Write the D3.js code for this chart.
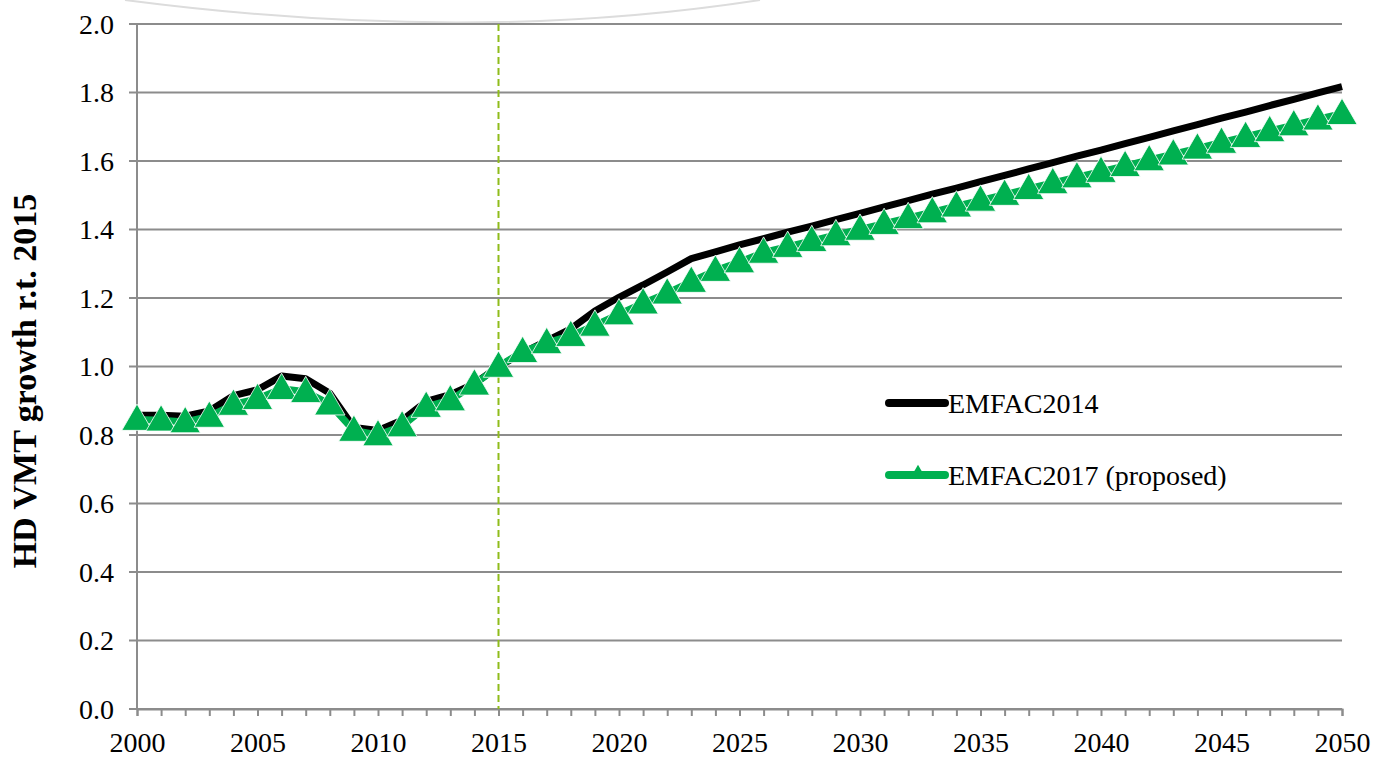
<!DOCTYPE html>
<html>
<head>
<meta charset="utf-8">
<script src="https://cdn.jsdelivr.net/npm/d3@7/dist/d3.min.js"></script>
<style>
  html, body { margin: 0; padding: 0; background: #fff; }
  svg { display: block; }
  text { font-family: "Liberation Serif", "Times New Roman", serif; }
</style>
</head>
<body>
<div id="chart"></div>
<script>
(function () {
  "use strict";

  /***** Données *****/
  var years = d3.range(2000, 2051);

  var emfac2014 = [
    0.858, 0.858, 0.855, 0.870, 0.915, 0.932, 0.972, 0.964, 0.922, 0.822,
    0.813, 0.843, 0.898, 0.918, 0.950, 1.000, 1.040, 1.075, 1.110, 1.162,
    1.202, 1.238, 1.276, 1.315, 1.335, 1.355, 1.373, 1.392, 1.410, 1.429,
    1.447, 1.466, 1.484, 1.503, 1.521, 1.540, 1.558, 1.577, 1.595, 1.614,
    1.632, 1.651, 1.669, 1.688, 1.706, 1.725, 1.743, 1.762, 1.780, 1.799,
    1.817
  ];

  var emfac2017 = [
    0.845, 0.843, 0.838, 0.854, 0.889, 0.906, 0.935, 0.926, 0.890, 0.813,
    0.800, 0.826, 0.883, 0.902, 0.948, 1.000, 1.043, 1.069, 1.090, 1.120,
    1.153, 1.185, 1.214, 1.248, 1.280, 1.305, 1.333, 1.350, 1.367, 1.384,
    1.400, 1.417, 1.434, 1.451, 1.468, 1.485, 1.502, 1.519, 1.536, 1.553,
    1.569, 1.586, 1.603, 1.620, 1.637, 1.654, 1.671, 1.688, 1.705, 1.722,
    1.738
  ];

  var yTicks = [0, 0.2, 0.4, 0.6, 0.8, 1.0, 1.2, 1.4, 1.6, 1.8, 2.0];
  var xLabelYears = [2000, 2005, 2010, 2015, 2020, 2025, 2030, 2035, 2040, 2045, 2050];
  var baseYear = 2015;

  var seriesNames = ["EMFAC2014", "EMFAC2017 (proposed)"];
  var axisTitle = "HD VMT growth r.t. 2015";

  /***** Configuration *****/
  var width = 1374, height = 757;
  var margin = {top: 24, right: 32, bottom: 48, left: 137};
  var plotW = width - margin.left - margin.right,
      plotH = height - margin.top - margin.bottom;

  var serif = "Liberation Serif, Times New Roman, serif";
  var grid = "#8c8c8c",
      green = "#00b050",
      dash = "#8fbc1b";

  var x = d3.scaleLinear().domain([2000, 2050]).range([0, plotW]);
  var y = d3.scaleLinear().domain([0, 2]).range([plotH, 0]);

  var svg = d3.select("#chart").append("svg")
    .attr("width", width)
    .attr("height", height);

  // arc pâle en haut (ombre de la page d'origine)
  svg.append("path")
    .attr("d", "M125,0 Q470,45 760,0")
    .attr("fill", "none")
    .attr("stroke", "#dcdcdc")
    .attr("stroke-width", 2);

  var g = svg.append("g")
    .attr("transform", "translate(" + margin.left + "," + margin.top + ")");

  // Lignes de grille horizontales
  g.append("g")
    .selectAll("line")
    .data(yTicks)
    .join("line")
      .attr("x1", -8)
      .attr("x2", plotW)
      .attr("y1", function (d) { return y(d); })
      .attr("y2", function (d) { return y(d); })
      .attr("stroke", grid)
      .attr("stroke-width", 2);

  // Axe Y (trait vertical)
  g.append("line")
    .attr("x1", 0).attr("x2", 0)
    .attr("y1", 0).attr("y2", plotH)
    .attr("stroke", grid)
    .attr("stroke-width", 2);

  // Étiquettes Y
  g.append("g")
    .selectAll("text")
    .data(yTicks)
    .join("text")
      .attr("x", -23)
      .attr("y", function (d) { return y(d); })
      .attr("dy", "0.35em")
      .attr("text-anchor", "end")
      .attr("font-family", serif)
      .attr("font-size", 28)
      .attr("fill", "#000")
      .text(function (d) { return d3.format(".1f")(d); });

  // Axe X avec graduations annuelles
  var xAxis = d3.axisBottom(x)
    .tickValues(years)
    .tickSize(7)
    .tickFormat(function (d) { return xLabelYears.indexOf(d) >= 0 ? d : ""; });

  var gx = g.append("g")
    .attr("transform", "translate(0," + plotH + ")")
    .call(xAxis);
  gx.attr("font-family", serif);
  gx.select(".domain").attr("stroke", grid).attr("stroke-width", 2);
  gx.selectAll(".tick line").attr("stroke", grid).attr("stroke-width", 2);
  gx.selectAll(".tick text")
    .attr("font-family", serif)
    .attr("font-size", 28)
    .attr("fill", "#000")
    .attr("y", 23)
    .attr("dy", "0.71em");

  // Ligne verticale pointillée 2015
  g.append("line")
    .attr("x1", x(baseYear)).attr("x2", x(baseYear))
    .attr("y1", 0).attr("y2", plotH)
    .attr("stroke", dash)
    .attr("stroke-width", 2)
    .attr("stroke-dasharray", "7,4");

  var line = d3.line()
    .x(function (d) { return x(d[0]); })
    .y(function (d) { return y(d[1]); });

  var d2014 = years.map(function (yr, i) { return [yr, emfac2014[i]]; });
  var d2017 = years.map(function (yr, i) { return [yr, emfac2017[i]]; });

  // Série EMFAC2014
  g.append("path")
    .datum(d2014)
    .attr("d", line)
    .attr("fill", "none")
    .attr("stroke", "#000")
    .attr("stroke-width", 7)
    .attr("stroke-linejoin", "round");

  // Série EMFAC2017
  g.append("path")
    .datum(d2017)
    .attr("d", line)
    .attr("fill", "none")
    .attr("stroke", green)
    .attr("stroke-width", 7)
    .attr("stroke-linejoin", "round");

  var tri = d3.symbol().type(d3.symbolTriangle).size(400);

  g.append("g")
    .selectAll("path")
    .data(d2017)
    .join("path")
      .attr("transform", function (d) { return "translate(" + x(d[0]) + "," + (y(d[1]) + 2) + ")"; })
      .attr("d", tri)
      .attr("fill", green)
      .attr("stroke", "#fff")
      .attr("stroke-width", 0.8);

  // Légende
  var legend = svg.append("g").attr("transform", "translate(889,0)");

  legend.append("line")
    .attr("x1", 0).attr("x2", 56)
    .attr("y1", 403).attr("y2", 403)
    .attr("stroke", "#000")
    .attr("stroke-width", 8)
    .attr("stroke-linecap", "round");

  legend.append("line")
    .attr("x1", 0).attr("x2", 56)
    .attr("y1", 475).attr("y2", 475)
    .attr("stroke", green)
    .attr("stroke-width", 8)
    .attr("stroke-linecap", "round");

  legend.append("path")
    .attr("transform", "translate(29,474)")
    .attr("d", d3.symbol().type(d3.symbolTriangle).size(110))
    .attr("fill", green);

  legend.selectAll("text.lg")
    .data(seriesNames)
    .join("text")
      .attr("class", "lg")
      .attr("x", 59)
      .attr("y", function (d, i) { return 413 + i * 72; })
      .attr("font-family", serif)
      .attr("font-size", 28)
      .attr("fill", "#000")
      .text(function (d) { return d; });

  // Titre de l'axe Y
  svg.append("text")
    .attr("transform", "translate(36,381) rotate(-90)")
    .attr("text-anchor", "middle")
    .attr("font-family", serif)
    .attr("font-size", 34)
    .attr("font-weight", "bold")
    .attr("fill", "#000")
    .text(axisTitle);
})();
</script>
</body>
</html>
